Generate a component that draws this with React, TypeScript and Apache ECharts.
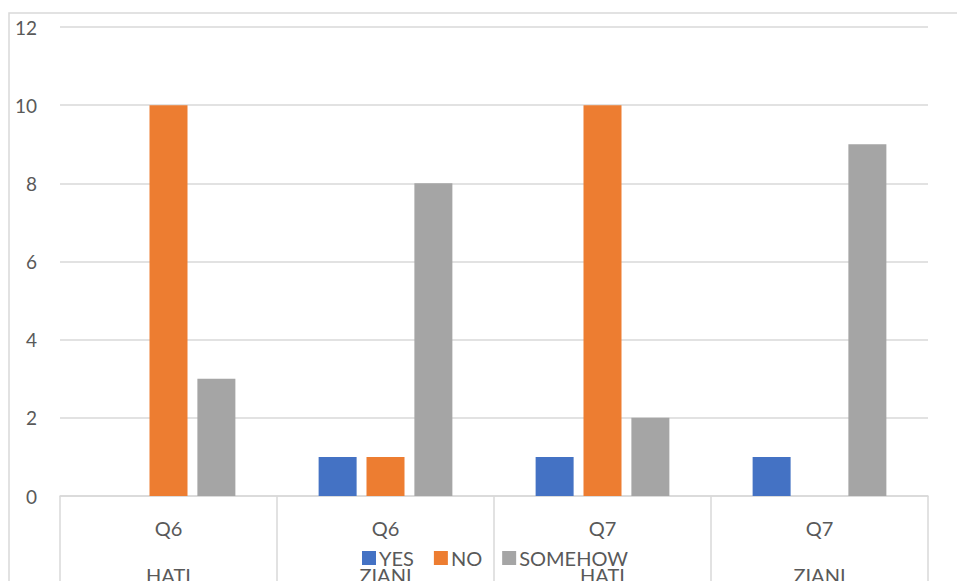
import React, { useEffect, useRef } from "react";
import * as echarts from "echarts";

const questions = ["Q6", "Q6", "Q7", "Q7"];
const respondents = ["HATI", "ZIANI", "HATI", "ZIANI"];
const yesValues = [0, 1, 1, 1];
const noValues = [10, 1, 10, 0];
const somehowValues = [3, 8, 2, 9];
const yTicks = [0, 2, 4, 6, 8, 10, 12];

const FONT = "Lato, 'Open Sans', sans-serif";
const TEXT = "#595959";
const LINE = "#d9d9d9";

export default function App() {
  const ref = useRef<HTMLDivElement>(null);

  useEffect(() => {
    if (!ref.current) return;
    const chart = echarts.init(ref.current, undefined, { renderer: "svg" });
    const categories = questions.map((q, i) => `${q}\n\n${respondents[i]}`);
    const bar = (name: string, data: number[], color: string) => ({
      name,
      type: "bar",
      data,
      barWidth: 38,
      barGap: "26%",
      itemStyle: { color },
    });
    chart.setOption({
      animation: false,
      textStyle: { fontFamily: FONT },
      graphic: [
        {
          type: "rect",
          shape: { x: 9, y: 13, width: 1000, height: 700 },
          style: { fill: "none", stroke: LINE, lineWidth: 1.5 },
          silent: true,
        },
      ],
      grid: { left: 60, right: 29, top: 27, bottom: 85, outerBoundsMode: "none", containLabel: false },
      legend: {
        left: 357,
        top: 543,
        icon: "rect",
        itemWidth: 14,
        itemHeight: 14,
        itemGap: 20,
        textStyle: { color: TEXT, fontSize: 20, fontFamily: FONT, padding: [0, 0, 0, -2] },
        data: ["YES", "NO", "SOMEHOW"],
      },
      xAxis: {
        type: "category",
        data: categories,
        axisLine: { lineStyle: { color: LINE, width: 1.5 } },
        axisTick: { show: true, length: 100, lineStyle: { color: LINE, width: 1.5 } },
        axisLabel: {
          color: TEXT,
          fontSize: 20,
          lineHeight: 23.5,
          margin: 20,
          interval: 0,
        },
      },
      yAxis: {
        type: "value",
        min: yTicks[0],
        max: yTicks[yTicks.length - 1],
        interval: 2,
        axisLine: { show: false },
        axisTick: { show: false },
        axisLabel: { color: TEXT, fontSize: 19, margin: 23 },
        splitLine: { lineStyle: { color: LINE, width: 1.5 } },
      },
      series: [
        bar("YES", yesValues, "#4472C4"),
        bar("NO", noValues, "#ED7D31"),
        bar("SOMEHOW", somehowValues, "#A5A5A5"),
      ],
    });
    return () => chart.dispose();
  }, []);

  return (
    <div
      ref={ref}
      style={{ position: "fixed", left: 0, top: 0, width: 957, height: 581, background: "#fff" }}
    />
  );
}
